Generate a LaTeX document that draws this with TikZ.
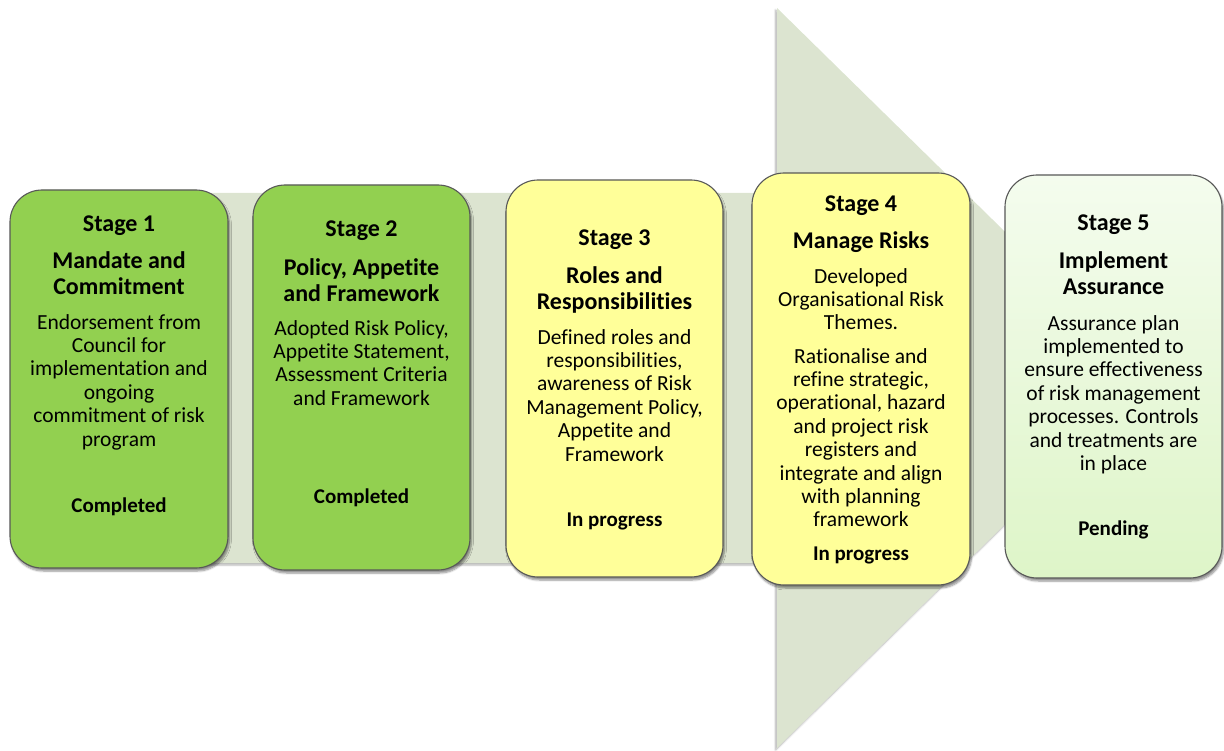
\documentclass[tikz,border=0pt]{standalone}
\usepackage{fontspec}
\setmainfont{Carlito}[Ligatures=NoCommon]
\usetikzlibrary{shadows.blur}

\definecolor{arrowfill}{RGB}{220,228,208}
\definecolor{stagegreen}{RGB}{146,208,80}
\definecolor{stageyellow}{RGB}{255,255,153}
\definecolor{paletop}{RGB}{244,252,238}
\definecolor{palebot}{RGB}{222,245,200}
\definecolor{rim}{RGB}{88,88,88}

\begin{document}
\begin{tikzpicture}[x=1pt,y=-1pt,
  softshadow/.style={blur shadow={shadow xshift=1.5pt,shadow yshift=-3pt,shadow blur steps=6,shadow opacity=45}},
  stagebox/.style={draw=rim,line width=1.1pt,rounded corners=32pt,inner sep=0pt,softshadow},
  stagetitle/.style={font=\fontsize{24}{27}\selectfont\bfseries,anchor=base,inner sep=0pt},
  heading/.style={font=\fontsize{24}{26.5}\selectfont\bfseries,align=center,anchor=north,inner sep=0pt},
  bodytext/.style={font=\fontsize{21.5}{23.4}\selectfont,align=center,anchor=north,inner sep=0pt},
  status/.style={font=\fontsize{21}{23}\selectfont\bfseries,anchor=base,inner sep=0pt}]

\useasboundingbox (0,0) rectangle (1224,751);

% large progress arrow behind the stages
\fill[arrowfill,blur shadow={shadow xshift=-1.5pt,shadow yshift=-2pt,shadow blur steps=5,shadow opacity=30}]
  (30,193) -- (777,193) -- (777,8) -- (1154,378) -- (777,748) -- (777,563) -- (30,563) -- cycle;

% stage boxes
\node[stagebox,fill=stagegreen,minimum width=218pt,minimum height=378pt] (s1) at (119,379) {};
\node[stagebox,fill=stagegreen,minimum width=217pt,minimum height=385pt] (s2) at (361.5,377.5) {};
\node[stagebox,fill=stageyellow,minimum width=217pt,minimum height=397pt] (s3) at (614.5,378.5) {};
\node[stagebox,fill=stageyellow,minimum width=218pt,minimum height=412pt] (s4) at (861,379) {};
\node[stagebox,top color=paletop,bottom color=palebot,minimum width=217pt,minimum height=403pt] (s5) at (1113.5,376.5) {};

% stage 1
\node[stagetitle] (t1) at (119,232) {Stage 1};
\node[heading] (h1) at (119,251) {Mandate and\\Commitment};
\node[bodytext] (b1) at (119,314) {Endorsement from\\Council for\\implementation and\\ongoing\\commitment of risk\\program};
\node[status] (c1) at (119,512) {Completed};

% stage 2
\node[stagetitle] (t2) at (361.5,237) {Stage 2};
\node[heading] (h2) at (361.5,258) {Policy, Appetite\\and Framework};
\node[bodytext] (b2) at (361.5,320) {Adopted Risk Policy,\\Appetite Statement,\\Assessment Criteria\\and Framework};
\node[status] (c2) at (361.5,503) {Completed};

% stage 3
\node[stagetitle] (t3) at (614.5,246) {Stage 3};
\node[heading] (h3) at (614.5,266) {Roles and\\Responsibilities};
\node[bodytext] (b3) at (614.5,329) {Defined roles and\\responsibilities,\\awareness of Risk\\Management Policy,\\Appetite and\\Framework};
\node[status] (c3) at (614.5,526) {In progress};

% stage 4
\node[stagetitle] (t4) at (861,212) {Stage 4};
\node[stagetitle] (h4) at (861,249) {Manage Risks};
\node[bodytext] (b4) at (861,268) {Developed\\Organisational Risk\\Themes.};
\node[bodytext] (d4) at (861,348) {Rationalise and\\refine strategic,\\operational, hazard\\and project risk\\registers and\\integrate and align\\with planning\\framework};
\node[status] (c4) at (861,560) {In progress};

% stage 5
\node[stagetitle] (t5) at (1113.5,231) {Stage 5};
\node[heading] (h5) at (1113.5,251) {Implement\\Assurance};
\node[bodytext] (b5) at (1113.5,315) {Assurance plan\\implemented to\\ensure effectiveness\\of risk management\\processes. Controls\\and treatments are\\in place};
\node[status] (c5) at (1113.5,535) {Pending};

\end{tikzpicture}
\end{document}
